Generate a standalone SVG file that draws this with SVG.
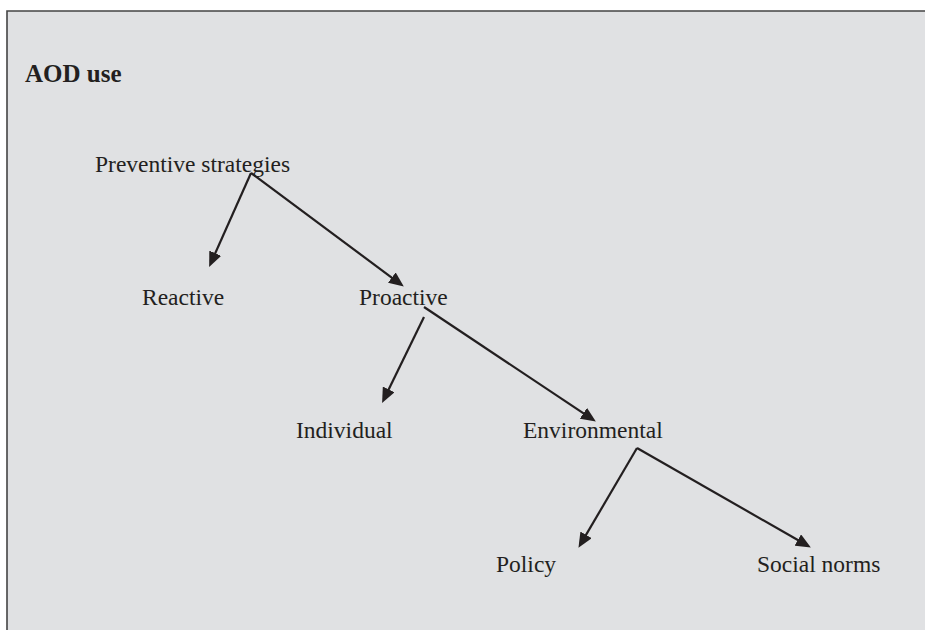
<svg xmlns="http://www.w3.org/2000/svg" width="925" height="630" viewBox="0 0 925 630">
<style>
.lbl{font-family:"Liberation Serif","Times New Roman",serif;font-size:23.5px;fill:#231f20}
.title{font-family:"Liberation Serif","Times New Roman",serif;font-size:25px;font-weight:bold;fill:#231f20}
.edge{stroke:#231f20;stroke-width:2.2;fill:none;marker-end:url(#ah)}
</style>
<defs>
<marker id="ah" viewBox="0 0 15 13" refX="7" refY="6.5" markerWidth="15" markerHeight="13" markerUnits="userSpaceOnUse" orient="auto">
<path d="M0,0 L15,6.5 L0,13 Z" fill="#231f20"/>
</marker>
</defs>
<rect x="0" y="0" width="925" height="630" fill="#ffffff"/>
<rect x="7" y="11" width="918" height="619" fill="#e0e1e3"/>
<path d="M7,630 V11 H925" stroke="#444444" stroke-width="1.6" fill="none"/>
<g id="title"><text class="title" x="25" y="82">AOD use</text></g>
<g id="connectors">
<line class="edge" x1="251" y1="173" x2="212.4" y2="259.6"/>
<line class="edge" x1="251" y1="173" x2="397.4" y2="281.8"/>
<line class="edge" x1="424" y1="317" x2="385.6" y2="395.7"/>
<line class="edge" x1="424" y1="307" x2="589.2" y2="417.1"/>
<line class="edge" x1="637" y1="448" x2="582.5" y2="540.9"/>
<line class="edge" x1="637" y1="448" x2="803.9" y2="543.5"/>
</g>
<g id="preventive"><text class="lbl" x="95" y="172">Preventive strategies</text></g>
<g id="reactive"><text class="lbl" x="142" y="305">Reactive</text></g>
<g id="proactive"><text class="lbl" x="359" y="305">Proactive</text></g>
<g id="individual"><text class="lbl" x="296" y="438">Individual</text></g>
<g id="environmental"><text class="lbl" x="523" y="438">Environmental</text></g>
<g id="policy"><text class="lbl" x="496" y="572">Policy</text></g>
<g id="socialnorms"><text class="lbl" x="757" y="572">Social norms</text></g>
</svg>
